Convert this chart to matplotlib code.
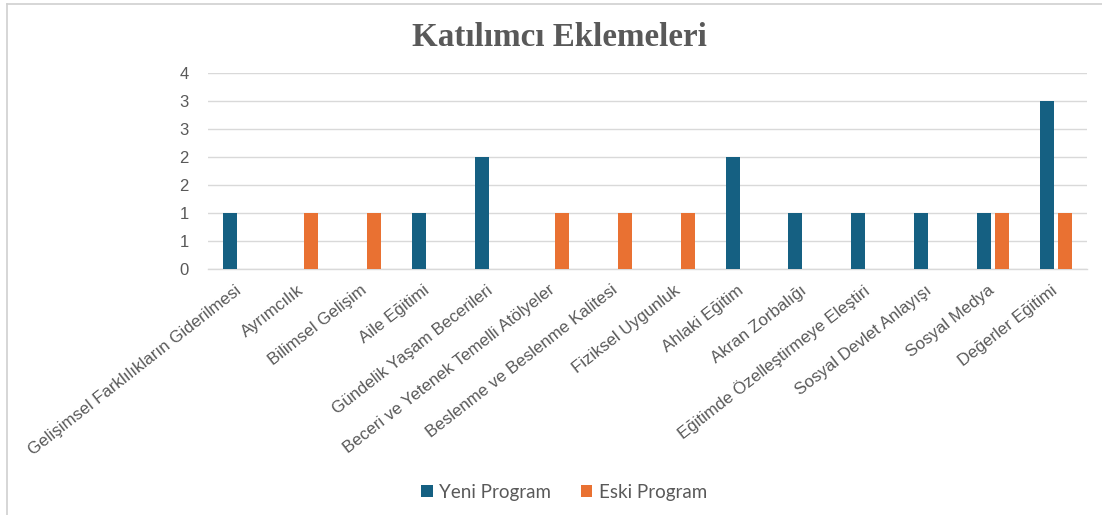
import math

import matplotlib
matplotlib.use("Agg")
import matplotlib.pyplot as plt
import numpy as np
from matplotlib.lines import Line2D
from matplotlib.ticker import FuncFormatter, MultipleLocator

CATEGORIES = [
    "Gelişimsel Farklılıkların Giderilmesi",
    "Ayrımcılık",
    "Bilimsel Gelişim",
    "Aile Eğitimi",
    "Gündelik Yaşam Becerileri",
    "Beceri ve Yetenek Temelli Atölyeler",
    "Beslenme ve Beslenme Kalitesi",
    "Fiziksel Uygunluk",
    "Ahlaki Eğitim",
    "Akran Zorbalığı",
    "Eğitimde Özelleştirmeye Eleştiri",
    "Sosyal Devlet Anlayışı",
    "Sosyal Medya",
    "Değerler Eğitimi",
]
YENI = [1, 0, 0, 1, 2, 0, 0, 0, 2, 1, 1, 1, 1, 3]
ESKI = [0, 1, 1, 0, 0, 1, 1, 1, 0, 0, 0, 0, 1, 1]

BLUE = "#156082"
ORANGE = "#E97132"
GRAY = "#595959"


def excel_round(v, _pos):
    # Excel's "0" format rounds halves away from zero
    return f"{math.floor(v + 0.5):d}"


def main() -> None:
    fig = plt.figure(figsize=(11.02, 5.15), dpi=100)
    ax = fig.add_axes([0.1887, 0.4777, 0.7977, 0.3806])

    x = np.arange(len(CATEGORIES))
    w = 0.223
    off = 0.143
    ax.bar(x - off, YENI, width=w, color=BLUE, label="Yeni Program", zorder=3)
    ax.bar(x + off, ESKI, width=w, color=ORANGE, label="Eski Program", zorder=3)

    ax.set_xlim(-0.5, len(CATEGORIES) - 0.5)
    ax.set_ylim(0, 3.5)
    ax.yaxis.set_major_locator(MultipleLocator(0.5))
    ax.yaxis.set_major_formatter(FuncFormatter(excel_round))
    ax.grid(axis="y", color="#D9D9D9", linewidth=1.0, zorder=0)
    for side in ("top", "right", "left"):
        ax.spines[side].set_visible(False)
    ax.spines["bottom"].set_color("#D9D9D9")
    ax.spines["bottom"].set_linewidth(1.0)
    ax.tick_params(axis="y", length=0, colors=GRAY, labelsize=12, pad=14)
    ax.tick_params(axis="x", length=0, colors=GRAY, pad=14)

    ax.set_xticks(x)
    ax.set_xticklabels(CATEGORIES, rotation=38, ha="right", va="center",
                       rotation_mode="anchor", fontsize=12.2,
                       family="Liberation Sans", color=GRAY)
    for lbl in ax.get_yticklabels():
        lbl.set_family("Liberation Sans")

    fig.text(0.508, 0.928, "Katılımcı Eklemeleri", ha="center", va="center",
             fontsize=23.8, fontweight="bold", family="Liberation Serif",
             color=GRAY)

    fig.legend(loc="center", bbox_to_anchor=(0.512, 0.044), ncol=2,
               frameon=False, handlelength=0.6, handleheight=0.6,
               handletextpad=0.35, columnspacing=1.6, labelcolor=GRAY,
               prop={"family": "Lato", "size": 13.5})

    # thin border on the left and top edges, as in the source screenshot
    fig.add_artist(Line2D([0.0066, 0.0066], [0.0, 0.993],
                          transform=fig.transFigure, color="#D0D0D0", lw=1.2))
    fig.add_artist(Line2D([0.0066, 1.0], [0.993, 0.993],
                          transform=fig.transFigure, color="#D0D0D0", lw=1.2))

    fig.savefig("out.png", dpi=100)


if __name__ == "__main__":
    main()
